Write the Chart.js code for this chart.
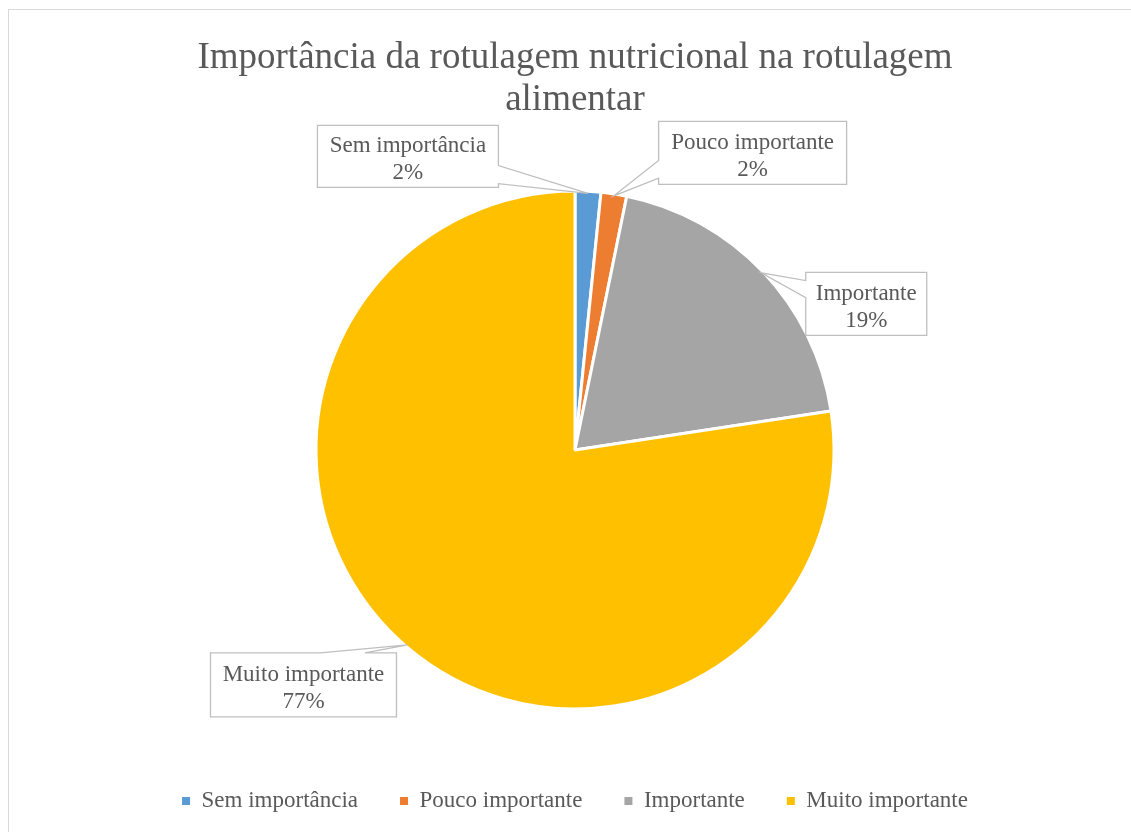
<!DOCTYPE html>
<html>
<head>
<meta charset="utf-8">
<title>Importância da rotulagem nutricional</title>
<script src="https://cdn.jsdelivr.net/npm/chart.js"></script>
<style>
    * {
        margin: 0;
        padding: 0;
        box-sizing: border-box;
    }

    body {
        background: #ffffff;
        width: 1131px;
        height: 832px;
        overflow: hidden;
        position: relative;
    }

    .frame {
        position: absolute;
        left: 8px;
        top: 9px;
        width: 1200px;
        height: 900px;
        border: 1px solid #d9d9d9;
    }

    canvas {
        position: absolute;
        left: 0;
        top: 0;
    }
</style>
</head>
<body>
<div class="frame"></div>
<canvas id="pieChart" width="1131" height="832"></canvas>

<script>
    const categories = ['Sem importância', 'Pouco importante', 'Importante', 'Muito importante'];
    const shares = [1.6, 1.6, 19.4, 77.4];
    const sliceColors = ['#5b9bd5', '#ed7d31', '#a5a5a5', '#ffc000'];
    const titleLines = ['Importância da rotulagem nutricional na rotulagem', 'alimentar'];

    const serif = "'Liberation Serif', 'Times New Roman', serif";
    const textGrey = '#595959';

    // label boxes: offset of the box centre from the slice's outer mid point,
    // box size, which side the pointer leaves from and where along that side
    const callouts = [
        { dx: -180, dy: -37, w: 181, h: 62, side: 'right', base: [0.65, 0.94] },
        { dx: 139, dy: -43, w: 188, h: 63, side: 'left', base: [0.62, 0.90] },
        { dx: 105, dy: 31, w: 121, h: 63, side: 'left', base: [0.13, 0.40] },
        { dx: -104, dy: 40, w: 186, h: 64, side: 'top', base: [0.59, 0.83] }
    ];

    const calloutPlugin = {
        id: 'callouts',
        afterDatasetsDraw(chart) {
            const ctx = chart.ctx;
            const meta = chart.getDatasetMeta(0);
            const values = chart.data.datasets[0].data;
            const total = values.reduce((a, b) => a + b, 0);

            ctx.save();
            meta.data.forEach((arc, i) => {
                const c = callouts[i];
                const p = arc.getProps(['x', 'y', 'startAngle', 'endAngle', 'outerRadius'], true);
                const mid = (p.startAngle + p.endAngle) / 2;
                const ax = p.x + Math.cos(mid) * (p.outerRadius - 2);
                const ay = p.y + Math.sin(mid) * (p.outerRadius - 2);
                const cx = ax + c.dx;
                const cy = ay + c.dy;
                const l = cx - c.w / 2, r = cx + c.w / 2;
                const t = cy - c.h / 2, b = cy + c.h / 2;

                ctx.beginPath();
                if (c.side === 'right') {
                    ctx.moveTo(l, t);
                    ctx.lineTo(r, t);
                    ctx.lineTo(r, t + c.h * c.base[0]);
                    ctx.lineTo(ax, ay);
                    ctx.lineTo(r, t + c.h * c.base[1]);
                    ctx.lineTo(r, b);
                    ctx.lineTo(l, b);
                } else if (c.side === 'left') {
                    ctx.moveTo(l, t);
                    ctx.lineTo(r, t);
                    ctx.lineTo(r, b);
                    ctx.lineTo(l, b);
                    ctx.lineTo(l, t + c.h * c.base[1]);
                    ctx.lineTo(ax, ay);
                    ctx.lineTo(l, t + c.h * c.base[0]);
                } else {
                    ctx.moveTo(l, t);
                    ctx.lineTo(l + c.w * c.base[0], t);
                    ctx.lineTo(ax, ay);
                    ctx.lineTo(l + c.w * c.base[1], t);
                    ctx.lineTo(r, t);
                    ctx.lineTo(r, b);
                    ctx.lineTo(l, b);
                }
                ctx.closePath();
                ctx.fillStyle = '#ffffff';
                ctx.fill();
                ctx.strokeStyle = '#bfbfbf';
                ctx.lineWidth = 1.3;
                ctx.stroke();

                ctx.fillStyle = textGrey;
                ctx.font = '23px ' + serif;
                ctx.textAlign = 'center';
                ctx.textBaseline = 'middle';
                ctx.fillText(chart.data.labels[i], cx, cy - 10);
                ctx.fillText(Math.round(values[i] / total * 100) + '%', cx, cy + 17);
            });
            ctx.restore();
        }
    };

    new Chart(document.getElementById('pieChart'), {
        type: 'pie',
        data: {
            labels: categories,
            datasets: [{
                data: shares,
                backgroundColor: sliceColors,
                borderColor: '#ffffff',
                borderWidth: 3,
                radius: 259
            }]
        },
        options: {
            responsive: false,
            animation: false,
            layout: {
                padding: { left: 19, right: 0, top: 0, bottom: 9.5 }
            },
            plugins: {
                title: {
                    display: true,
                    text: titleLines,
                    color: textGrey,
                    font: { family: serif, size: 37, weight: 'normal', lineHeight: 1.135 },
                    padding: { top: 37, bottom: 31.5 }
                },
                legend: {
                    position: 'bottom',
                    labels: {
                        color: textGrey,
                        font: { family: serif, size: 23 },
                        boxWidth: 8,
                        boxHeight: 8,
                        padding: 42,
                        generateLabels: () => categories.map((name, i) => ({
                            text: name,
                            fillStyle: sliceColors[i],
                            strokeStyle: sliceColors[i],
                            lineWidth: 0,
                            fontColor: textGrey,
                            hidden: false,
                            index: i
                        }))
                    }
                },
                tooltip: { enabled: false }
            }
        },
        plugins: [calloutPlugin]
    });
</script>
</body>
</html>
